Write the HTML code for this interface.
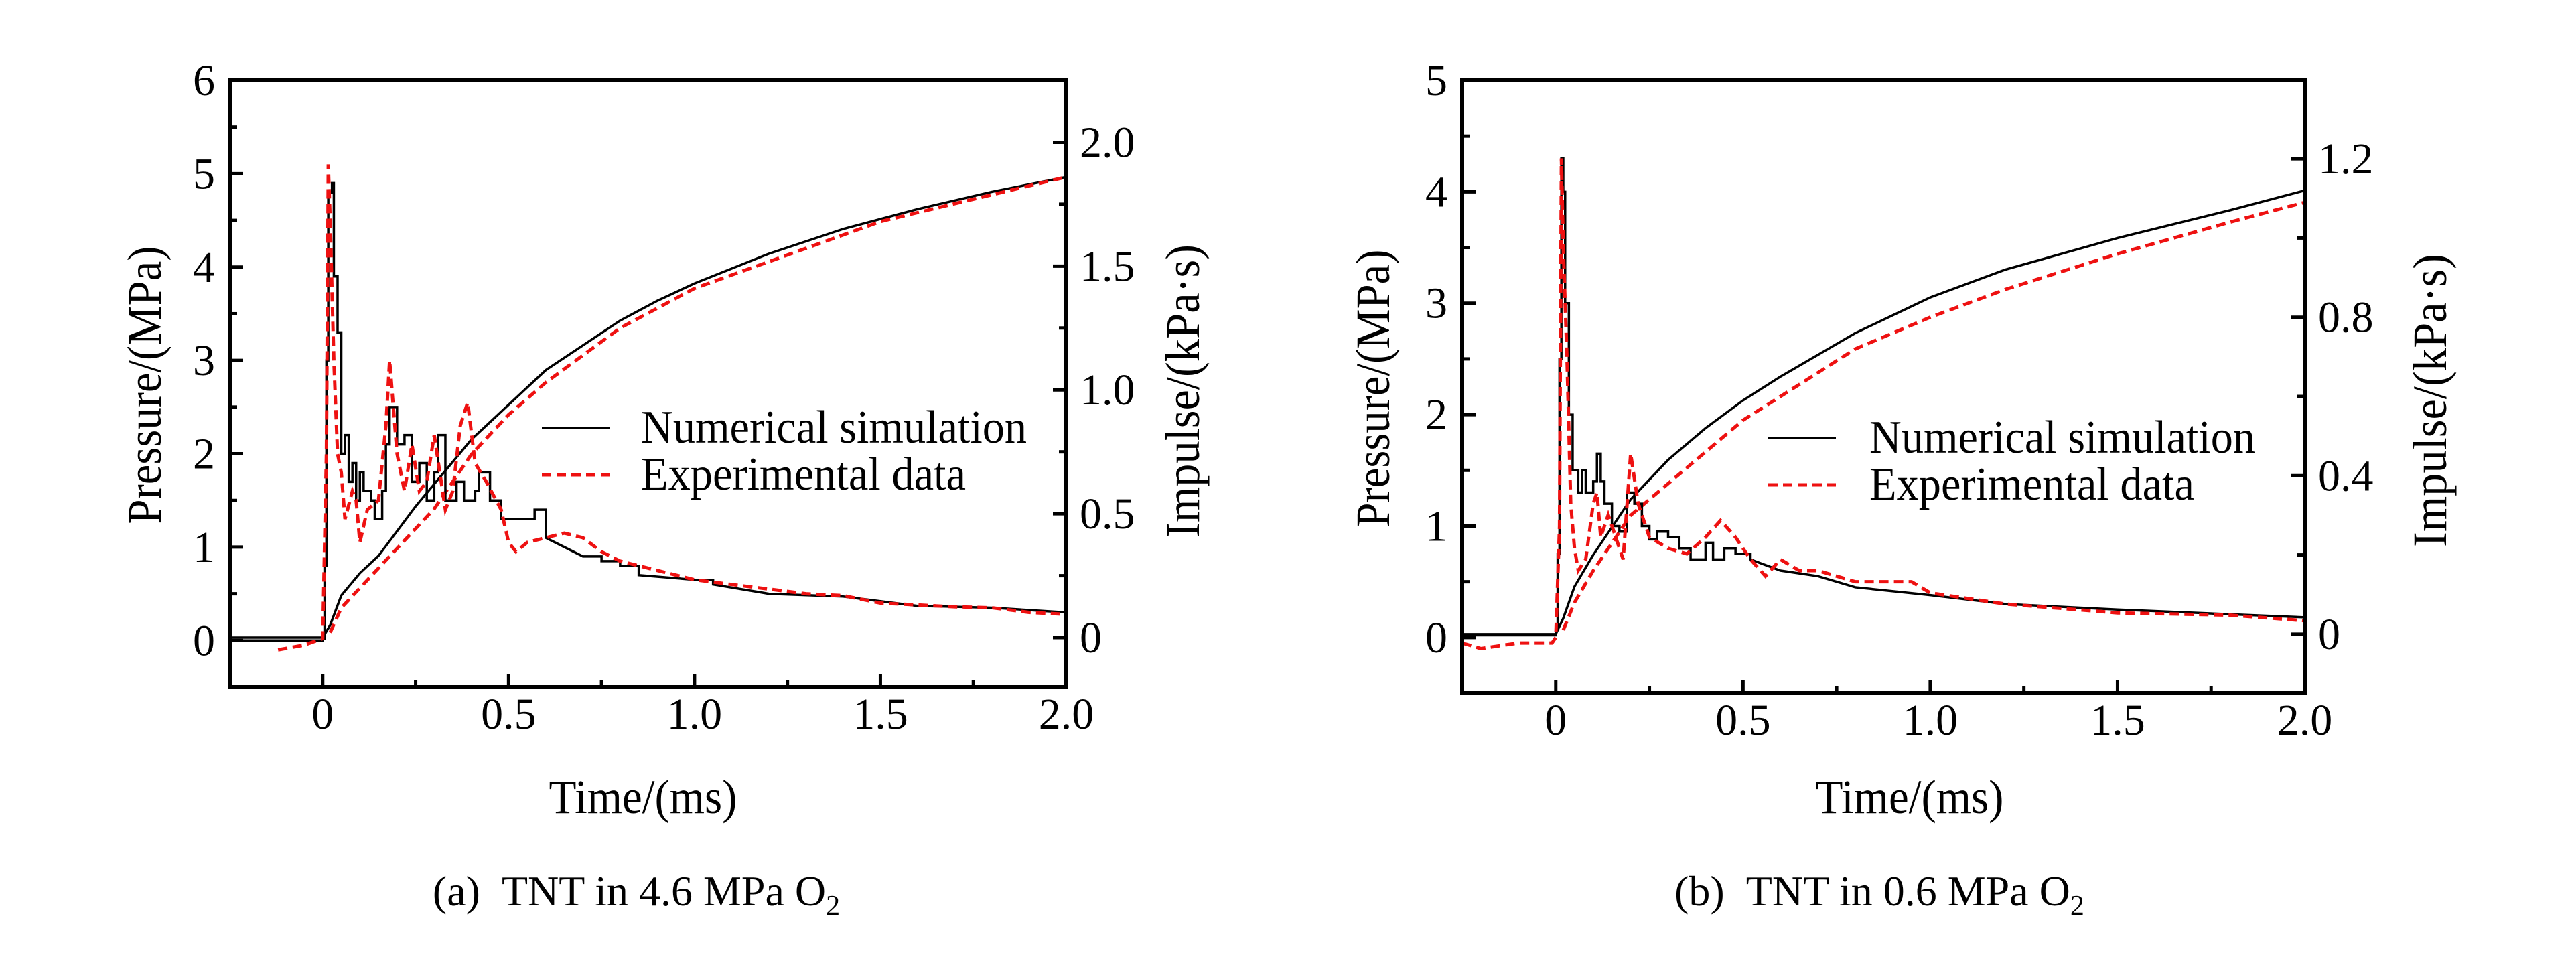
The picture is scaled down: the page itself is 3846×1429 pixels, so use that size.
<!DOCTYPE html>
<html><head><meta charset="utf-8"><style>
html,body{margin:0;padding:0;background:#fff;}
svg{display:block;}
svg text{font-family:"Liberation Serif","Times New Roman",serif;}
</style></head><body>
<svg id="fig" width="3846" height="1429" viewBox="0 0 3846 1429" font-family="Liberation Serif, serif"></svg>
<script>
// ---- Chart (a) data ----
const aSimT=[-0.25,-0.02,0,0.005,0.01,0.015,0.025,0.03,0.04,0.05,0.06,0.07,0.08,0.09,0.1,0.11,0.13,0.14,0.16,0.17,0.18,0.2,0.22,0.24,0.26,0.28,0.3,0.31,0.33,0.36,0.38,0.41,0.42,0.45,0.48,0.5,0.55,0.57,0.6,0.7,0.75,0.8,0.85,1.0,1.05,1.2,1.4,1.6,1.8,2.0];
const aSimP=[0,0,0.02,0.8,3.0,4.8,4.9,3.9,3.3,2.0,2.2,1.7,1.9,1.5,1.8,1.6,1.5,1.3,1.6,2.1,2.5,2.1,2.2,1.7,1.9,1.5,1.8,2.2,1.5,1.7,1.5,1.6,1.8,1.5,1.3,1.3,1.3,1.4,1.1,0.9,0.85,0.8,0.7,0.65,0.6,0.5,0.47,0.37,0.35,0.3];
const aExpT=[-0.12,-0.05,0,0.01,0.015,0.02,0.03,0.04,0.05,0.06,0.08,0.09,0.1,0.12,0.15,0.17,0.18,0.2,0.22,0.24,0.26,0.28,0.3,0.33,0.35,0.37,0.39,0.41,0.44,0.48,0.5,0.52,0.55,0.6,0.65,0.7,0.75,0.8,0.9,1.0,1.1,1.2,1.3,1.4,1.5,1.6,1.7,1.8,1.9,2.0];
const aExpP=[-0.1,-0.05,0.02,2.0,5.1,4.5,3.0,2.0,1.8,1.3,1.6,1.5,1.05,1.4,1.5,2.3,3.0,2.0,1.6,2.1,1.6,1.7,2.2,1.4,1.6,2.3,2.55,1.9,1.7,1.4,1.05,0.95,1.05,1.1,1.15,1.1,0.95,0.85,0.75,0.65,0.6,0.55,0.5,0.48,0.4,0.38,0.36,0.35,0.3,0.28];
const aImpT=[-0.25,0,0.02,0.05,0.1,0.15,0.2,0.25,0.3,0.4,0.5,0.6,0.7,0.8,0.9,1.0,1.2,1.4,1.6,1.8,2.0];
const aSimI=[0,0,0.05,0.17,0.26,0.33,0.43,0.53,0.62,0.8,0.94,1.08,1.18,1.28,1.36,1.43,1.55,1.65,1.73,1.8,1.86];
const aExpIT=[0.02,0.05,0.1,0.2,0.3,0.4,0.5,0.6,0.8,1.0,1.5,2.0];
const aExpI=[0.02,0.12,0.2,0.36,0.52,0.74,0.9,1.03,1.25,1.41,1.68,1.86];
// ---- Chart (b) data ----
const bSimT=[-0.25,-0.01,0,0.005,0.01,0.015,0.02,0.025,0.035,0.045,0.06,0.07,0.08,0.1,0.11,0.12,0.13,0.15,0.17,0.19,0.21,0.23,0.25,0.27,0.3,0.33,0.36,0.38,0.4,0.42,0.45,0.48,0.52,0.6,0.7,0.8,1.0,1.2,1.5,2.0];
const bSimP=[0.02,0.02,0.1,0.75,2.5,4.3,4.0,3.0,2.0,1.5,1.3,1.5,1.3,1.4,1.65,1.4,1.2,1.0,0.95,1.3,1.2,1.0,0.88,0.95,0.9,0.8,0.7,0.7,0.85,0.7,0.8,0.75,0.7,0.6,0.55,0.45,0.38,0.3,0.25,0.18];
const bExpT=[-0.25,-0.2,-0.1,-0.01,0,0.01,0.015,0.02,0.03,0.04,0.05,0.06,0.08,0.1,0.11,0.12,0.14,0.16,0.18,0.2,0.22,0.25,0.3,0.35,0.4,0.44,0.48,0.52,0.56,0.6,0.65,0.7,0.8,0.95,1.0,1.2,1.5,1.8,2.0];
const bExpP=[-0.05,-0.1,-0.05,-0.05,0,1.0,4.3,3.5,2.5,1.2,0.8,0.6,0.7,1.2,1.3,0.9,1.1,0.9,0.7,1.65,1.2,0.9,0.8,0.75,0.9,1.05,0.9,0.7,0.55,0.7,0.6,0.6,0.5,0.5,0.4,0.3,0.22,0.2,0.15];
const bImpT=[-0.25,0,0.02,0.05,0.1,0.2,0.3,0.4,0.5,0.6,0.8,1.0,1.2,1.5,1.8,2.0];
const bSimI=[0,0,0.04,0.12,0.2,0.34,0.44,0.52,0.59,0.65,0.76,0.85,0.92,1.0,1.07,1.12];
const bExpIT=[0.02,0.05,0.1,0.2,0.3,0.4,0.5,0.6,0.8,1.0,1.2,1.5,1.8,2.0];
const bExpI=[0.01,0.08,0.16,0.3,0.38,0.46,0.54,0.6,0.72,0.8,0.87,0.96,1.04,1.09];
const xTicks=[0,0.5,1.0,1.5,2.0];
const xTickLabels=["0","0.5","1.0","1.5","2.0"];
const aLeftTicks=[0,1,2,3,4,5,6];
const aRightTicks=[0,0.5,1.0,1.5,2.0];
const aRightLabels=["0","0.5","1.0","1.5","2.0"];
const bLeftTicks=[0,1,2,3,4,5];
const bRightTicks=[0,0.4,0.8,1.2];
const bRightLabels=["0","0.4","0.8","1.2"];

const NS="http://www.w3.org/2000/svg";
const svg=document.getElementById('fig');
function el(tag,attrs,parent,txt){const e=document.createElementNS(NS,tag);for(const k in attrs)e.setAttribute(k,attrs[k]);if(txt!==undefined)e.textContent=txt;(parent||svg).appendChild(e);return e;}

function chart(c){
  const g=el('g',{});
  
  
  const X=t=>c.x0+(t-c.xmin)/(c.xmax-c.xmin)*(c.x1-c.x0);
  const YL=v=>c.y1-(v-c.lmin)/(c.lmax-c.lmin)*(c.y1-c.y0);
  const YR=v=>c.y1-(v-c.rmin)/(c.rmax-c.rmin)*(c.y1-c.y0);
  const clipId=c.name+'-clip';
  const defs=el('defs',{},g);const cp=el('clipPath',{id:clipId},defs);
  el('rect',{x:c.x0,y:c.y0,width:c.x1-c.x0,height:c.y1-c.y0},cp);
  const plot=el('g',{'clip-path':'url(#'+clipId+')'},g);
  function line(T,V,Y,step){let d='';T.forEach((t,i)=>{const x=X(t),y=Y(V[i]);if(i===0)d+='M'+x+' '+y;else if(step&&(t-T[i-1])<=0.06)d+=' H'+x+' V'+y;else d+=' L'+x+' '+y;});return d;}
  let p=el('path',{d:line(c.impT,c.simI,YR,false),fill:'none',stroke:'#000','stroke-width':3.5},plot);
  
  p=el('path',{d:line(c.expIT,c.expI,YR,false),fill:'none',stroke:'#ee1111','stroke-width':5,'stroke-dasharray':'14 8'},plot);
  
  p=el('path',{d:line(c.simT,c.simP,YL,true),fill:'none',stroke:'#000','stroke-width':3.5},plot);
  
  p=el('path',{d:line(c.expT,c.expP,YL,false),fill:'none',stroke:'#ee1111','stroke-width':5,'stroke-dasharray':'14 8'},plot);
  
  const fr=el('rect',{x:c.x0,y:c.y0,width:c.x1-c.x0,height:c.y1-c.y0,fill:'none',stroke:'#000','stroke-width':6},g);
  
  xTicks.forEach((t,i)=>{const x=X(t);el('line',{x1:x,x2:x,y1:c.y1,y2:c.y1-20,stroke:'#000','stroke-width':5},g);
    const tl=el('text',{x:x,y:c.y1+62,'font-size':66,'text-anchor':'middle'},g,xTickLabels[i]);
    
    if(i<xTicks.length-1){const xm=X(t+0.25);el('line',{x1:xm,x2:xm,y1:c.y1,y2:c.y1-11,stroke:'#000','stroke-width':5},g);}});
  c.lt.forEach((v,i)=>{const y=YL(v);el('line',{x1:c.x0,x2:c.x0+20,y1:y,y2:y,stroke:'#000','stroke-width':5},g);
    const tl=el('text',{x:c.x0-22,y:y+22,'font-size':66,'text-anchor':'end'},g,String(v));
    
    if(v+0.5<=c.lmax){const ym=YL(v+0.5);el('line',{x1:c.x0,x2:c.x0+11,y1:ym,y2:ym,stroke:'#000','stroke-width':5},g);}});
  c.rt.forEach((v,i)=>{const y=YR(v);el('line',{x1:c.x1,x2:c.x1-20,y1:y,y2:y,stroke:'#000','stroke-width':5},g);
    const tl=el('text',{x:c.x1+20,y:y+22,'font-size':66,'text-anchor':'start'},g,c.rl[i]);
    
    const ym=YR(v+c.rstep/2);if(ym>c.y0){el('line',{x1:c.x1,x2:c.x1-11,y1:ym,y2:ym,stroke:'#000','stroke-width':5},g);}});
  let t=el('text',{x:0,y:0,'font-size':72,'text-anchor':'middle',transform:`translate(${c.ltx},${c.lty}) rotate(-90)`,textLength:c.ltl,lengthAdjust:'spacingAndGlyphs'},g,'Pressure/(MPa)');
  
  t=el('text',{x:0,y:0,'font-size':72,'text-anchor':'middle',transform:`translate(${c.rtx},${c.rty}) rotate(-90)`,textLength:c.rtl,lengthAdjust:'spacingAndGlyphs'},g,'Impulse/(kPa\u00b7s)');
  
  t=el('text',{x:c.ttx,y:1214,'font-size':72,'text-anchor':'middle',textLength:281,lengthAdjust:'spacingAndGlyphs'},g,'Time/(ms)');
  
  const lg=el('g',{},g);
  el('line',{x1:c.lgx,x2:c.lgx+101,y1:c.lgy,y2:c.lgy,stroke:'#000','stroke-width':3.5},lg);
  t=el('text',{x:c.lgtx,y:c.lgy+22,'font-size':70,textLength:576,lengthAdjust:'spacingAndGlyphs'},lg,'Numerical simulation');
  
  el('line',{x1:c.lgx,x2:c.lgx+101,y1:c.lgy+70,y2:c.lgy+70,stroke:'#ee1111','stroke-width':5,'stroke-dasharray':'14 8'},lg);
  t=el('text',{x:c.lgtx,y:c.lgy+92,'font-size':70,textLength:485,lengthAdjust:'spacingAndGlyphs'},lg,'Experimental data');
  
  t=el('text',{x:c.capx,y:1352,'font-size':64,'text-anchor':'middle'},g);
  
  el('tspan',{},t,c.cap);el('tspan',{'font-size':42,dy:14},t,'2');
}
chart({name:'chart-a',x0:343,x1:1592,y0:120,y1:1026,xmin:-0.25,xmax:2.0,lmin:-0.5,lmax:6,rmin:-0.2,rmax:2.25,
  simT:aSimT,simP:aSimP,expT:aExpT,expP:aExpP,impT:aImpT,simI:aSimI,expIT:aExpIT,expI:aExpI,
  lt:aLeftTicks,rt:aRightTicks,rl:aRightLabels,rstep:0.5,
  ltx:240,lty:575,ltl:415,rtx:1790,rty:584,rtl:438,ttx:960,lgx:809,lgy:639,lgtx:957,capx:950,cap:'(a)\u00a0\u00a0TNT in 4.6 MPa O'});
chart({name:'chart-b',x0:2183,x1:3441,y0:120,y1:1035,xmin:-0.25,xmax:2.0,lmin:-0.5,lmax:5,rmin:-0.149,rmax:1.398,
  simT:bSimT,simP:bSimP,expT:bExpT,expP:bExpP,impT:bImpT,simI:bSimI,expIT:bExpIT,expI:bExpI,
  lt:bLeftTicks,rt:bRightTicks,rl:bRightLabels,rstep:0.4,
  ltx:2074,lty:580,ltl:415,rtx:3652,rty:598,rtl:438,ttx:2851,lgx:2640,lgy:654,lgtx:2791,capx:2806,cap:'(b)\u00a0\u00a0TNT in 0.6 MPa O'});
</script>
</body></html>
